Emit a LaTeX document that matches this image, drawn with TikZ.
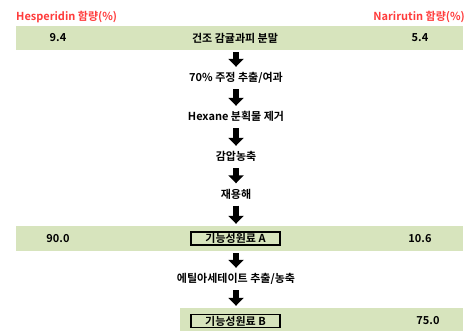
\documentclass[tikz,border=0pt]{standalone}
\usepackage{fontspec}
\setmainfont{Noto Sans CJK KR}[BoldFont={* Bold}]
\usetikzlibrary{arrows.meta}
\definecolor{bandgreen}{HTML}{D7E4BD}
\definecolor{hdrred}{HTML}{FF3B3B}
\tikzset{
  band/.style={fill=bandgreen, draw=none, inner sep=0pt, minimum height=24pt},
  txt/.style={font=\bfseries\fontsize{11}{13}\selectfont, inner sep=0pt},
  stepbox/.style={txt, minimum height=19pt},
  hdr/.style={txt, text=hdrred},
  framebox/.style={txt, draw=black, line width=1.2pt, minimum width=89pt, minimum height=13pt},
  flow/.style={line width=5.5pt, -{Triangle[width=15pt,length=8pt]}, shorten <=2pt, shorten >=1pt}
}
\begin{document}
\begin{tikzpicture}[x=1pt,y=-1pt]
\useasboundingbox (0,0) rectangle (465,331);
% headers
\node[hdr, anchor=west] (hesp) at (16,17) {Hesperidin 함량(\%)};
\node[hdr, anchor=east] (nari) at (465,17) {Narirutin 함량(\%)};
% band 1
\node[band, minimum width=447pt] (band1) at (239.5,38) {};
\node[txt] (v1) at (58,38) {9.4};
\node[txt] (c1) at (235,38) {건조 감귤과피 분말};
\node[txt] (n1) at (420,38) {5.4};
% steps
\node[stepbox] (s1) at (236,77.5) {70\% 주정 추출/여과};
\node[stepbox] (s2) at (236,116.5) {Hexane 분획물 제거};
\node[stepbox] (s3) at (236,156.5) {감압농축};
\node[stepbox] (s4) at (236,194) {재용해};
% band 2
\node[band, minimum width=447pt, minimum height=25pt] (band2) at (239.5,238.5) {};
\node[framebox] (boxA) at (235.5,238.5) {기능성원료 A};
\node[txt] (v2) at (58,238.5) {90.0};
\node[txt] (n2) at (420,238.5) {10.6};
\node[stepbox] (s5) at (236,278.5) {에틸아세테이트 추출/농축};
% band 3
\node[band, minimum width=283pt, minimum height=26pt] (band3) at (321.5,321) {};
\node[framebox] (boxB) at (235.5,321) {기능성원료 B};
\node[txt] (n3) at (428,321) {75.0};
% arrows
\draw[flow] (s1|-band1.south) -- (s1.north);
\draw[flow] (s1.south) -- (s2.north);
\draw[flow] (s2.south) -- (s3.north);
\draw[flow] (s3.south) -- (s4.north);
\draw[flow, shorten >=2pt] (s4.south) -- (s4|-band2.north);
\draw[flow] (s5|-band2.south) -- (s5.north);
\draw[flow, shorten >=2pt] (s5.south) -- (s5|-band3.north);
\end{tikzpicture}
\end{document}
